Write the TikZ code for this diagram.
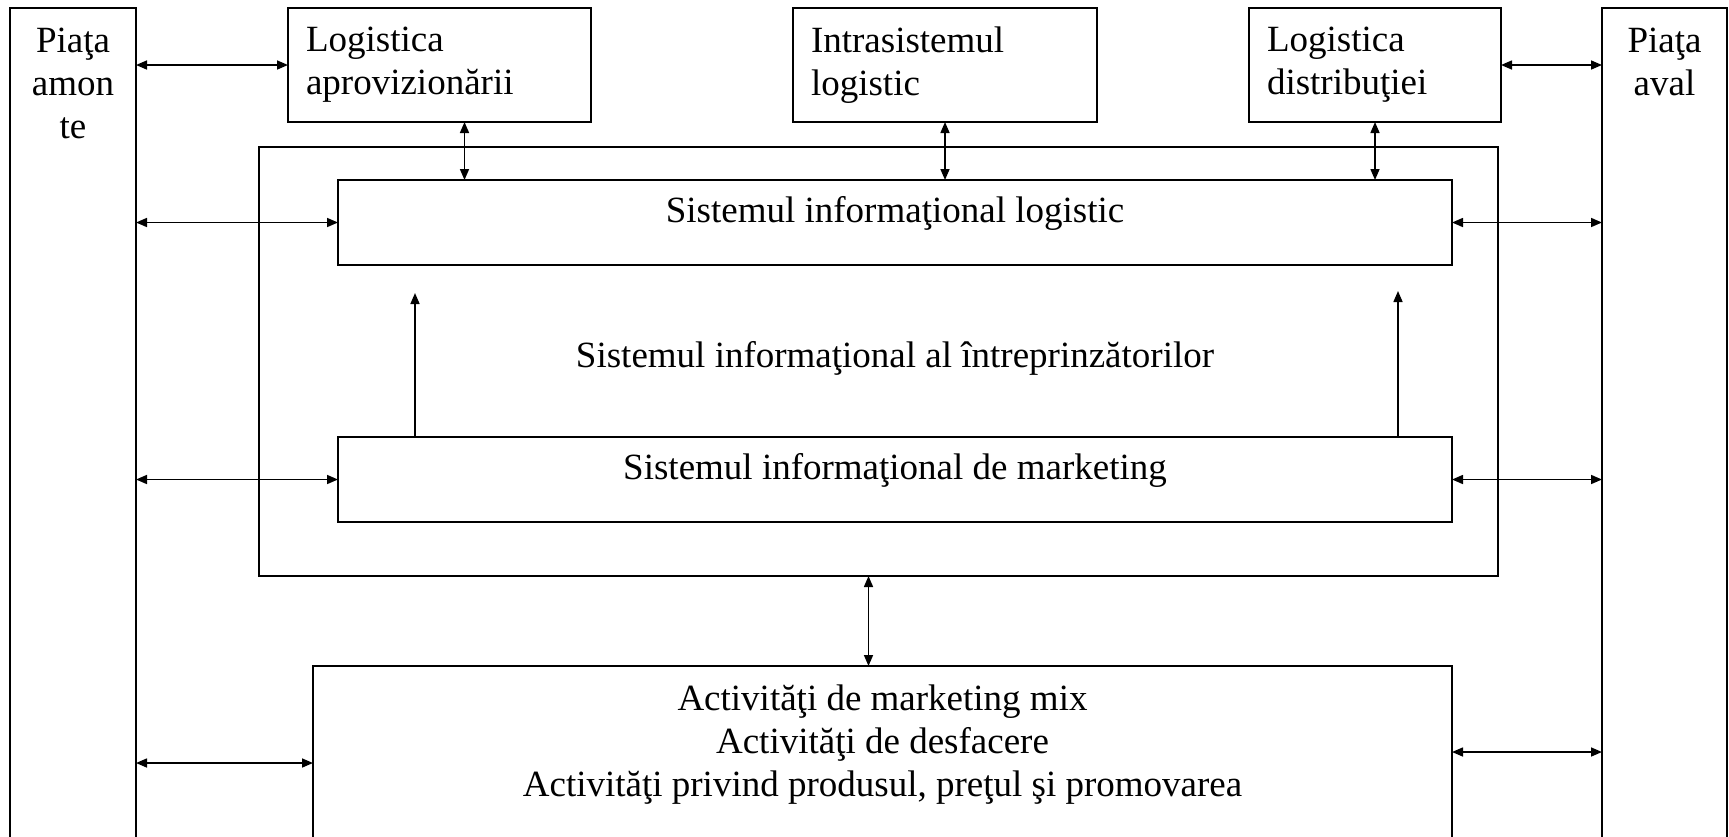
\documentclass[tikz,border=0pt]{standalone}
\usepackage{fontspec}
\setmainfont{Liberation Serif}
\usetikzlibrary{arrows.meta,positioning}

\tikzset{
  box/.style={draw, line width=1.1pt, inner sep=0pt, outer sep=0pt, anchor=north west},
  onebox/.style={box, text height=6pt, text depth=6pt},
  twobox/.style={box, align=left, inner xsep=9pt, inner ysep=0pt},
  lbl/.style={inner sep=0pt, align=center},
  link/.style={line width=0.8pt},
}

\begin{document}
\begin{tikzpicture}[x=0.5pt, y=-0.5pt, font=\fontsize{18.5}{21.5}\selectfont, >={Triangle[length=5.5pt,width=4.5pt]}]
\useasboundingbox (0,0) rectangle (1729,836);
% pietele
\node[box, minimum width=63pt, minimum height=421pt] (amonte) at (10,8) {};
\node[lbl, below=9.8pt of amonte.north] (amontetxt) {Piaţa\\amon\\te};
\node[box, minimum width=62.5pt, minimum height=421pt] (aval) at (1602,8) {};
\node[lbl, below=9.8pt of aval.north] (avaltxt) {Piaţa\\aval};
% logistica
\node[twobox, text width=133.5pt, minimum height=57pt] (aprov) at (288,8) {Logistica\\aprovizionării};
\node[twobox, text width=134pt, minimum height=57pt] (intra) at (793,8) {Intrasistemul\\logistic};
\node[twobox, text width=108pt, minimum height=57pt] (distr) at (1249,8) {Logistica\\distribuţiei};
% sistemul informational
\node[box, minimum width=619.5pt, minimum height=214.5pt] (sia) at (259,147) {};
\node[lbl, anchor=base] (siatxt) at (895,367) {Sistemul informaţional al întreprinzătorilor};
\node[onebox, minimum width=557pt, minimum height=42.5pt] (sil) at (338,180) {Sistemul informaţional logistic};
\node[onebox, minimum width=557pt, minimum height=42.5pt] (sim) at (338,437) {Sistemul informaţional de marketing};
% activitati
\node[box, minimum width=569.5pt, minimum height=92pt] (activ) at (313,666) {};
\node[lbl, below=9.4pt of activ.north] (activtxt) {Activităţi de marketing mix\\Activităţi de desfacere\\Activităţi privind produsul, preţul şi promovarea};
% legaturi stanga
\coordinate (actl) at ([yshift=-48.5pt]activ.north west);
\draw[link,<->] (aprov.west -| amonte.east) -- (aprov.west);
\draw[link,<->] (sil.west -| amonte.east) -- (sil.west);
\draw[link,<->] (sim.west -| amonte.east) -- (sim.west);
\draw[link,<->] (actl -| amonte.east) -- (actl);
% legaturi dreapta
\coordinate (actr) at ([yshift=-43pt]activ.north east);
\draw[link,<->] (distr.east) -- (distr.east -| aval.west);
\draw[link,<->] (sil.east) -- (sil.east -| aval.west);
\draw[link,<->] (sim.east) -- (sim.east -| aval.west);
\draw[link,<->] (actr) -- (actr -| aval.west);
% legaturi verticale
\coordinate (aprovdown) at ([xshift=12.5pt]aprov.south);
\draw[link,<->] (aprovdown) -- (aprovdown |- sil.north);
\draw[link,<->] (intra.south) -- (intra.south |- sil.north);
\draw[link,<->] (distr.south) -- (distr.south |- sil.north);
\draw[link,->] ([xshift=38.5pt]sim.north west) -- ([xshift=38.5pt,yshift=-14pt]sil.south west);
\draw[link,->] ([xshift=-27pt]sim.north east) -- ([xshift=-27pt,yshift=-13pt]sil.south east);
\coordinate (siadown) at ([xshift=-5pt]sia.south);
\draw[link,<->] (siadown) -- (siadown |- activ.north);
\end{tikzpicture}
\end{document}
